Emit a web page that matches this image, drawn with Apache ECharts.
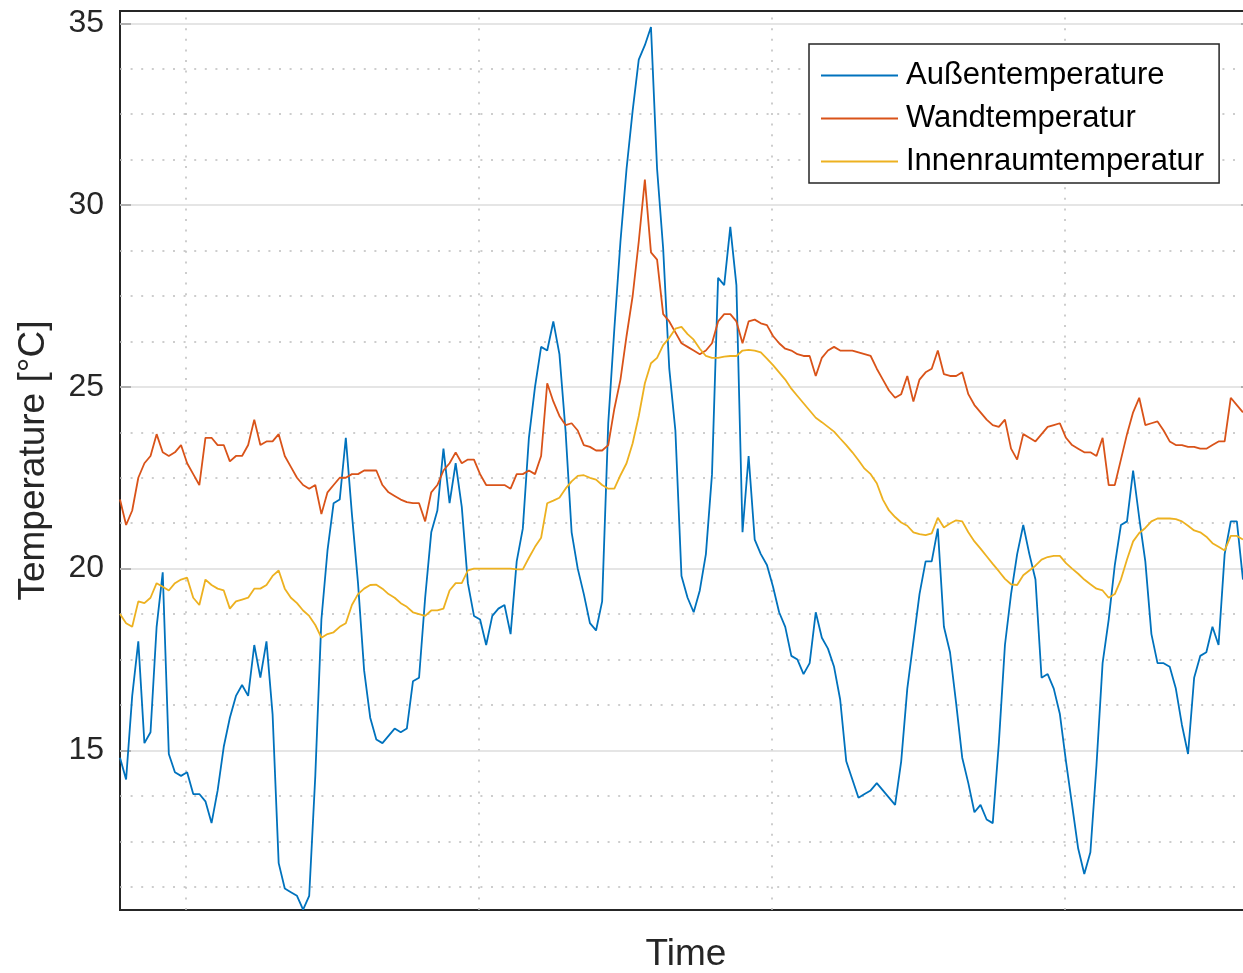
<!DOCTYPE html>
<html>
<head>
<meta charset="utf-8">
<title>Temperaturverlauf</title>
<script src="https://cdn.jsdelivr.net/npm/echarts@6/dist/echarts.min.js"></script>
<style>
  html, body { margin: 0; padding: 0; background: #ffffff; overflow: hidden; }
  #chart { width: 1243px; height: 973px; }
</style>
</head>
<body>
<div id="chart"></div>
<script>
// Half-hourly samples; time in hours relative to the first midnight.
const START_HOUR = -5.4;
const STEP_HOURS = 0.5;

const seriesNames = ['Außentemperature', 'Wandtemperatur', 'Innenraumtemperatur'];

const aussen = [
  14.8, 14.2, 16.5, 18.0, 15.2, 15.5, 18.4, 19.9, 14.9, 14.4,
  14.3, 14.4, 13.8, 13.8, 13.6, 13.0, 13.9, 15.1, 15.9, 16.5,
  16.8, 16.5, 17.9, 17.0, 18.0, 16.0, 11.9, 11.2, 11.1, 11.0,
  10.62, 11.0, 14.3, 18.6, 20.5, 21.8, 21.9, 23.6, 21.5, 19.6,
  17.2, 15.9, 15.3, 15.2, 15.4, 15.6, 15.5, 15.6, 16.9, 17.0,
  19.2, 21.0, 21.6, 23.3, 21.8, 22.9, 21.7, 19.6, 18.7, 18.6,
  17.9, 18.7, 18.9, 19.0, 18.2, 20.2, 21.1, 23.6, 25.0, 26.1,
  26.0, 26.8, 25.9, 23.8, 21.0, 20.0, 19.3, 18.5, 18.3, 19.1,
  24.0, 26.6, 29.0, 31.0, 32.6, 34.0, 34.4, 34.9, 31.0, 28.8,
  25.5, 23.8, 19.8, 19.2, 18.8, 19.4, 20.4, 22.6, 28.0, 27.8,
  29.4, 27.8, 21.0, 23.1, 20.8, 20.4, 20.1, 19.5, 18.8, 18.4,
  17.6, 17.5, 17.1, 17.4, 18.8, 18.1, 17.8, 17.3, 16.4, 14.7,
  14.2, 13.7, 13.8, 13.9, 14.1, 13.9, 13.7, 13.5, 14.7, 16.7,
  18.0, 19.3, 20.2, 20.2, 21.1, 18.4, 17.7, 16.3, 14.8, 14.1,
  13.3, 13.5, 13.1, 13.0, 15.2, 17.9, 19.3, 20.4, 21.2, 20.4,
  19.7, 17.0, 17.1, 16.7, 16.0, 14.7, 13.5, 12.3, 11.6, 12.2,
  14.6, 17.4, 18.6, 20.1, 21.2, 21.3, 22.7, 21.4, 20.2, 18.2,
  17.4, 17.4, 17.3, 16.7, 15.7, 14.9, 17.0, 17.6, 17.7, 18.4,
  17.9, 20.4, 21.3, 21.3, 19.7
];

const wand = [
  21.9, 21.2, 21.6, 22.5, 22.9, 23.1, 23.7, 23.2, 23.1, 23.2,
  23.4, 22.9, 22.6, 22.3, 23.6, 23.6, 23.4, 23.4, 22.95, 23.1,
  23.1, 23.4, 24.1, 23.4, 23.5, 23.5, 23.7, 23.1, 22.8, 22.5,
  22.3, 22.2, 22.3, 21.5, 22.1, 22.3, 22.5, 22.5, 22.6, 22.6,
  22.7, 22.7, 22.7, 22.3, 22.1, 22.0, 21.9, 21.83, 21.8, 21.8,
  21.3, 22.1, 22.3, 22.7, 22.9, 23.2, 22.9, 23.0, 23.0, 22.6,
  22.3, 22.3, 22.3, 22.3, 22.2, 22.6, 22.6, 22.7, 22.6, 23.1,
  25.1, 24.6, 24.2, 23.95, 24.0, 23.8, 23.4, 23.35, 23.25, 23.25,
  23.4, 24.4, 25.2, 26.4, 27.5, 29.0, 30.7, 28.7, 28.5, 27.0,
  26.8, 26.5, 26.2, 26.1, 26.0, 25.9, 26.0, 26.2, 26.8, 27.0,
  27.0, 26.8, 26.2, 26.8, 26.85, 26.75, 26.7, 26.4, 26.2, 26.05,
  26.0, 25.9, 25.85, 25.85, 25.3, 25.8, 26.0, 26.1, 26.0, 26.0,
  26.0, 25.95, 25.9, 25.85, 25.5, 25.2, 24.9, 24.7, 24.8, 25.3,
  24.6, 25.2, 25.4, 25.5, 26.0, 25.35, 25.3, 25.3, 25.4, 24.8,
  24.5, 24.3, 24.1, 23.95, 23.9, 24.1, 23.3, 23.0, 23.7, 23.6,
  23.5, 23.7, 23.9, 23.95, 24.0, 23.6, 23.4, 23.3, 23.2, 23.2,
  23.1, 23.6, 22.3, 22.3, 23.0, 23.7, 24.3, 24.7, 23.95, 24.0,
  24.05, 23.8, 23.5, 23.4, 23.4, 23.35, 23.35, 23.3, 23.3, 23.4,
  23.5, 23.5, 24.7, 24.5, 24.3
];

const innen = [
  18.75, 18.5, 18.4, 19.1, 19.05, 19.2, 19.6, 19.5, 19.4, 19.6,
  19.7, 19.75, 19.2, 19.0, 19.7, 19.55, 19.45, 19.4, 18.9, 19.1,
  19.15, 19.2, 19.45, 19.45, 19.55, 19.8, 19.95, 19.45, 19.2, 19.05,
  18.85, 18.7, 18.45, 18.1, 18.2, 18.25, 18.4, 18.5, 19.0, 19.3,
  19.45, 19.55, 19.56, 19.45, 19.3, 19.2, 19.05, 18.95, 18.8, 18.75,
  18.7, 18.85, 18.85, 18.9, 19.4, 19.6, 19.6, 19.95, 20.0, 20.0,
  20.0, 20.0, 20.0, 20.0, 20.0, 19.98, 19.98, 20.3, 20.6, 20.85,
  21.8, 21.87, 21.95, 22.2, 22.4, 22.55, 22.57, 22.5, 22.45, 22.3,
  22.2, 22.2, 22.57, 22.9, 23.45, 24.2, 25.1, 25.65, 25.8, 26.15,
  26.35, 26.6, 26.65, 26.45, 26.3, 26.05, 25.85, 25.8, 25.8, 25.83,
  25.85, 25.85, 26.0, 26.02, 26.0, 25.95, 25.78, 25.6, 25.4, 25.2,
  24.95, 24.75, 24.55, 24.35, 24.15, 24.03, 23.9, 23.77, 23.58, 23.4,
  23.2, 22.98, 22.75, 22.6, 22.35, 21.9, 21.6, 21.42, 21.27, 21.18,
  21.0, 20.95, 20.92, 20.97, 21.4, 21.13, 21.24, 21.33, 21.3, 21.0,
  20.75, 20.55, 20.34, 20.13, 19.93, 19.72, 19.57, 19.55, 19.82, 19.95,
  20.08, 20.25, 20.32, 20.35, 20.35, 20.15, 20.0, 19.86, 19.7, 19.57,
  19.45, 19.4, 19.2, 19.3, 19.7, 20.25, 20.75, 20.98, 21.12, 21.3,
  21.38, 21.38, 21.38, 21.36, 21.3, 21.18, 21.05, 21.0, 20.88, 20.7,
  20.6, 20.5, 20.9, 20.9, 20.8
];

// Axis ticks
const yTicks = [15, 20, 25, 30, 35];
const yMinorStep = 1.25;
const dayLines = [0, 24, 48, 72];

const Y_MIN = 10.61;
const Y_MAX = 35.34;
const X_MIN = -5.4;
const X_MAX = 87.34;

const FONT = "'Liberation Sans', Arial, Helvetica, sans-serif";
const AXIS_COLOR = '#262626';
const colors = ['#0072BD', '#D95319', '#EDB120'];

function withTime(values) {
  return values.map((v, k) => [START_HOUR + STEP_HOURS * k, v]);
}

// Minor grid positions between the labelled ticks
const yMinor = [];
for (let v = yTicks[0] - 4 * yMinorStep; v < Y_MAX; v += yMinorStep) {
  const isMajor = yTicks.some(t => Math.abs(t - v) < 1e-6);
  if (!isMajor && v > Y_MIN) yMinor.push(+v.toFixed(2));
}

// Grid lines drawn as mark lines, kept underneath the data and the legend
function gridSeries(name, items, style) {
  return {
    name: name,
    type: 'line',
    data: [],
    z: 1,
    silent: true,
    markLine: {
      z: 1,
      silent: true,
      symbol: 'none',
      animation: false,
      label: { show: false },
      lineStyle: style,
      emphasis: { disabled: true },
      data: items
    }
  };
}

const dotted = { color: '#bdbdbd', width: 1.5, type: [2, 8.6] };
const solidGrid = { color: '#dcdcdc', width: 1.5, type: 'solid' };

function lineSeries(i, values) {
  return {
    name: seriesNames[i],
    type: 'line',
    data: withTime(values),
    color: colors[i],
    showSymbol: false,
    symbol: 'none',
    z: 2,
    lineStyle: { width: 1.8, color: colors[i] }
  };
}

const chart = echarts.init(document.getElementById('chart'), null, { renderer: 'canvas' });

chart.setOption({
  animation: false,
  backgroundColor: '#ffffff',
  textStyle: { fontFamily: FONT },
  grid: {
    left: 120,
    top: 11,
    width: 1132,
    bottom: 63,
    show: true,
    borderColor: AXIS_COLOR,
    borderWidth: 2,
    backgroundColor: 'transparent',
    containLabel: false,
    outerBoundsMode: 'none'
  },
  legend: {
    data: seriesNames,
    orient: 'vertical',
    left: 809,
    top: 44,
    z: 10,
    icon: 'rect',
    itemWidth: 77,
    itemHeight: 2,
    itemGap: 12,
    padding: [16, 15, 6, 12],
    backgroundColor: '#ffffff',
    borderColor: AXIS_COLOR,
    borderWidth: 1.5,
    selectedMode: false,
    textStyle: {
      fontFamily: FONT,
      fontSize: 31,
      lineHeight: 31,
      color: '#000000',
      padding: [0, 0, 0, 3]
    }
  },
  xAxis: {
    type: 'value',
    min: X_MIN,
    max: X_MAX,
    name: 'Time',
    nameLocation: 'middle',
    nameGap: 26,
    nameTextStyle: { fontFamily: FONT, fontSize: 37, color: AXIS_COLOR },
    axisLine: { show: true, onZero: false, lineStyle: { color: AXIS_COLOR, width: 2 } },
    axisTick: { show: false },
    axisLabel: { show: false },
    splitLine: { show: false }
  },
  yAxis: [
    {
      type: 'value',
      min: Y_MIN,
      max: Y_MAX,
      name: 'Temperature [°C]',
      nameLocation: 'middle',
      nameGap: 68,
      nameTextStyle: { fontFamily: FONT, fontSize: 37, color: AXIS_COLOR },
      axisLine: { show: true, onZero: false, lineStyle: { color: AXIS_COLOR, width: 2 } },
      axisTick: {
        show: true,
        inside: true,
        length: 11,
        customValues: yTicks,
        lineStyle: { color: AXIS_COLOR, width: 2 }
      },
      axisLabel: {
        show: true,
        margin: 16,
        padding: [4, 0, 0, 0],
        customValues: yTicks,
        fontFamily: FONT,
        fontSize: 32,
        color: AXIS_COLOR
      },
      splitLine: { show: false }
    },
    {
      type: 'value',
      position: 'right',
      min: Y_MIN,
      max: Y_MAX,
      axisLine: { show: true, onZero: false, lineStyle: { color: AXIS_COLOR, width: 2 } },
      axisTick: {
        show: true,
        inside: true,
        length: 11,
        customValues: yTicks,
        lineStyle: { color: AXIS_COLOR, width: 2 }
      },
      axisLabel: { show: false },
      splitLine: { show: false }
    }
  ],
  series: [
    gridSeries('yMinorGrid', yMinor.map(v => ({ yAxis: v })), dotted),
    gridSeries('dayGrid', dayLines.map(v => ({ xAxis: v })), dotted),
    gridSeries('yMajorGrid', yTicks.map(v => ({ yAxis: v })), solidGrid),
    lineSeries(0, aussen),
    lineSeries(1, wand),
    lineSeries(2, innen)
  ]
});
</script>
</body>
</html>
